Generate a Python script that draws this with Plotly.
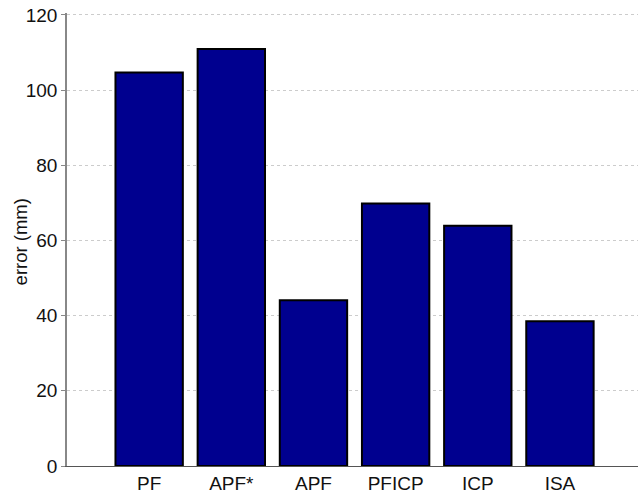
import plotly.graph_objects as go

categories = ["PF", "APF*", "APF", "PFICP", "ICP", "ISA"]
errors = [104.7, 110.9, 44.1, 69.8, 63.9, 38.5]
yticks = [0, 20, 40, 60, 80, 100, 120]

fig = go.Figure(go.Bar(
    x=list(range(len(categories))),
    y=errors,
    width=0.82,
    marker=dict(color="#00008F", line=dict(color="black", width=2)),
))

fig.update_layout(
    width=638, height=501,
    margin=dict(l=67, r=0, t=13, b=35),
    paper_bgcolor="white", plot_bgcolor="white",
    font=dict(family="Liberation Sans, Arial, sans-serif", size=18, color="#111111"),
    showlegend=False,
    xaxis=dict(
        range=[-1, 5.95],
        tickvals=list(range(len(categories))),
        ticktext=categories,
        showgrid=False, zeroline=False,
        showline=True, linecolor="#555555", linewidth=1,
        ticks="", tickfont=dict(size=19),
        automargin=False,
    ),
    yaxis=dict(
        range=[0, 120.5],
        tickvals=yticks,
        showgrid=True, gridcolor="#cccccc", griddash="dot", gridwidth=1,
        zeroline=False,
        showline=True, linecolor="#888888", linewidth=1.5,
        ticks="outside", ticklen=4, tickcolor="#888888",
        tickfont=dict(size=19),
        automargin=False,
    ),
    annotations=[dict(
        text="error (mm)", textangle=-90, showarrow=False,
        xref="paper", yref="paper", x=-0.082, y=0.494,
        xanchor="center", yanchor="middle",
        font=dict(size=18.5, color="#111111"),
    )],
)

fig.write_html("out.html", config={"displayModeBar": False},
               post_script="document.body.style.margin='0';")
